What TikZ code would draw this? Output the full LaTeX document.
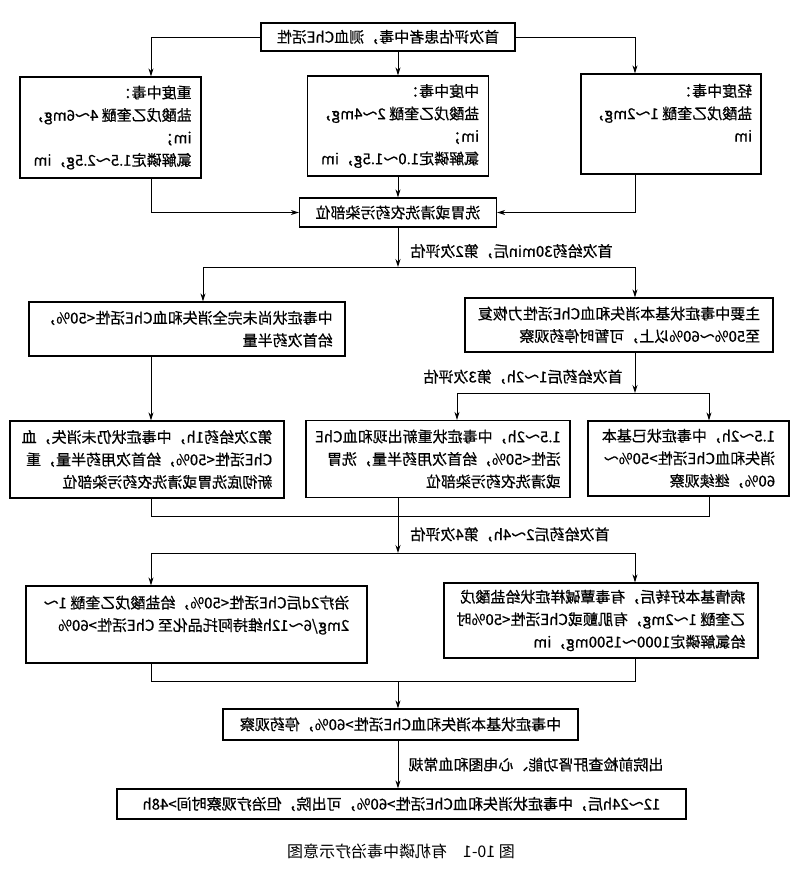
\documentclass[tikz,border=0pt]{standalone}
\usepackage{fontspec}
\newfontfamily\cjk[FakeBold=0.6]{Noto Sans CJK SC}
\newfontfamily\cjkthin{Noto Sans CJK SC}
\usetikzlibrary{arrows.meta}

\begin{document}
\begin{tikzpicture}[x=1pt,y=-1pt,xscale=-1,transform shape,
    >={Stealth[length=8pt,width=5pt]},
    blk/.style={draw,line width=1.2pt,align=left,inner xsep=2pt,inner ysep=2pt,font=\cjk\fontsize{15}{22.5}\selectfont},
    note/.style={inner sep=0pt,font=\cjk\fontsize{15}{18}\selectfont},
    figcap/.style={inner sep=0pt,font=\cjkthin\fontsize{16}{18}\selectfont},
    conn/.style={line width=0.9pt}]
  \useasboundingbox (0,0) rectangle (800,871);
  \fill[white] (0,0) rectangle (800,871);

  % 竖线的位置
  \coordinate (xL) at (649,0);
  \coordinate (xR) at (165,0);
  \coordinate (xInc) at (597,0);
  \coordinate (xMid) at (343,0);
  \coordinate (xRt) at (91,0);
  \coordinate (j1) at (402,267);
  \coordinate (j2) at (165,393);
  \coordinate (j3) at (402,516);
  \coordinate (j4) at (402,553);
  \coordinate (j5) at (402,681);

  \node[blk,minimum width=254pt,minimum height=28pt] (start) at (412,37) {首次评估患者中毒，测血ChE活性}; %第1次评估
  \node[blk,minimum width=181pt,minimum height=101pt] (sev) at (689.5,127.5) {重度中毒：\\盐酸戊乙奎醚~4～6mg，\\im；\\氯解磷定1.5～2.5g，im};
  \node[blk,minimum width=181pt,minimum height=100pt] (mod) at (402,126) {中度中毒：\\盐酸戊乙奎醚~2～4mg，\\im；\\氯解磷定1.0～1.5g，im};
  \node[blk,minimum width=180pt,minimum height=100pt] (mild) at (129,124) {轻度中毒：\\盐酸戊乙奎醚~1～2mg，\\im\\\mbox{}};
  \node[blk,minimum width=197pt,minimum height=29pt] (xw) at (402,212.5) {洗胃或清洗农药污染部位};

  \node[blk,minimum width=316pt,minimum height=54pt] (inc) at (613,329) {中毒症状尚未完全消失和血ChE活性<50\%，\\给首次药半量}; %第2次评估
  \node[blk,minimum width=308pt,minimum height=54pt] (rec) at (181,325) {主要中毒症状基本消失和血ChE活性力恢复\\至50\%～60\%以上，可暂时停药观察};

  \node[blk,minimum width=274pt,minimum height=77pt] (again) at (653,459.5) {第2次给药1h，中毒症状仍未消失，血\\ChE活性<50\%，给首次用药半量，重\\新彻底洗胃或清洗农药污染部位}; %第3次评估
  \node[blk,minimum width=264pt,minimum height=77pt] (mid3) at (362,459) {1.5～2h，中毒症状重新出现和血ChE\\活性<50\%，给首次用药半量，洗胃\\或清洗农药污染部位};
  \node[blk,minimum width=201pt,minimum height=75pt] (r3) at (111.5,458.5) {1.5～2h，中毒症状已基本\\消失和血ChE活性>50\%～\\60\%，继续观察};

  \node[blk,minimum width=341pt,minimum height=77pt] (left4) at (603.5,624.5) {治疗2d后ChE活性<50\%，给盐酸戊乙奎醚~1～\\2mg/6～12h维持阿托品化至 ChE活性>60\%\\\mbox{}}; %第4次评估
  \node[blk,minimum width=314pt,minimum height=75pt] (right4) at (199,620.5) {病情基本好转后，有毒蕈碱样症状给盐酸戊\\乙奎醚~1～2mg，有肌颤或ChE活性<50\%时\\给氯解磷定1000～1500mg，im};

  \node[blk,minimum width=355pt,minimum height=31pt] (stop) at (399.5,724.5) {中毒症状基本消失和血ChE活性>60\%，停药观察};
  \node[blk,minimum width=569pt,minimum height=30pt] (final) at (398.5,804) {12～24h后，中毒症状消失和血ChE活性>60\%，可出院，但治疗观察时间>48h};
  \node[figcap] (cap) at (399,851) {图 10-1\quad 有机磷中毒治疗示意图};

  \draw[conn,->] (start.south -| mod.north) -- (mod.north);
  \draw[conn,->] (start.east) -| (sev.north -| xL);
  \draw[conn,->] (start.west) -| (mild.north -| xR);
  \draw[conn,->] (sev.south -| xL) |- (xw.east);
  \draw[conn,->] (mod.south) -- (xw.north);
  \draw[conn,->] (mild.south -| xR) |- (xw.west);

  \draw[conn,->] (xw.south) -- node[note,left=12pt,pos=0.6] (t1) {首次给药30min后，第2次评估} (j1);
  \draw[conn,->] (j1) -| (inc.north -| xInc);
  \draw[conn,->] (j1) -| (rec.north -| xR);

  \draw[conn,->] (inc.south -| xL) -- (again.north -| xL);
  \draw[conn,->] (rec.south -| xR) -- node[note,right=12pt,pos=0.6] (t2) {首次给药后1～2h，第3次评估} (j2);
  \draw[conn,->] (j2) -| (mid3.north -| xMid);
  \draw[conn,->] (j2) -| (r3.north -| xRt);

  \draw[conn] (again.south -| xL) |- (j3);
  \draw[conn] (r3.south -| xRt) |- (j3);
  \draw[conn] (mid3.south -| j3) -- (j3);
  \draw[conn,->] (j3) -- node[note,left=12pt] (t3) {首次给药后2～4h，第4次评估} (j4);
  \draw[conn,->] (j4) -| (left4.north -| xL);
  \draw[conn,->] (j4) -| (right4.north -| xR);

  \draw[conn] (left4.south -| xL) |- (j5);
  \draw[conn] (right4.south -| xR) |- (j5);
  \draw[conn,->] (j5) -- (stop.north -| j5);
  \draw[conn,->] (stop.south -| j5) -- node[note,left=10pt] (t4) {出院前检查肝肾功能、心电图和血常规} (final.north -| j5);
\end{tikzpicture}
\end{document}
